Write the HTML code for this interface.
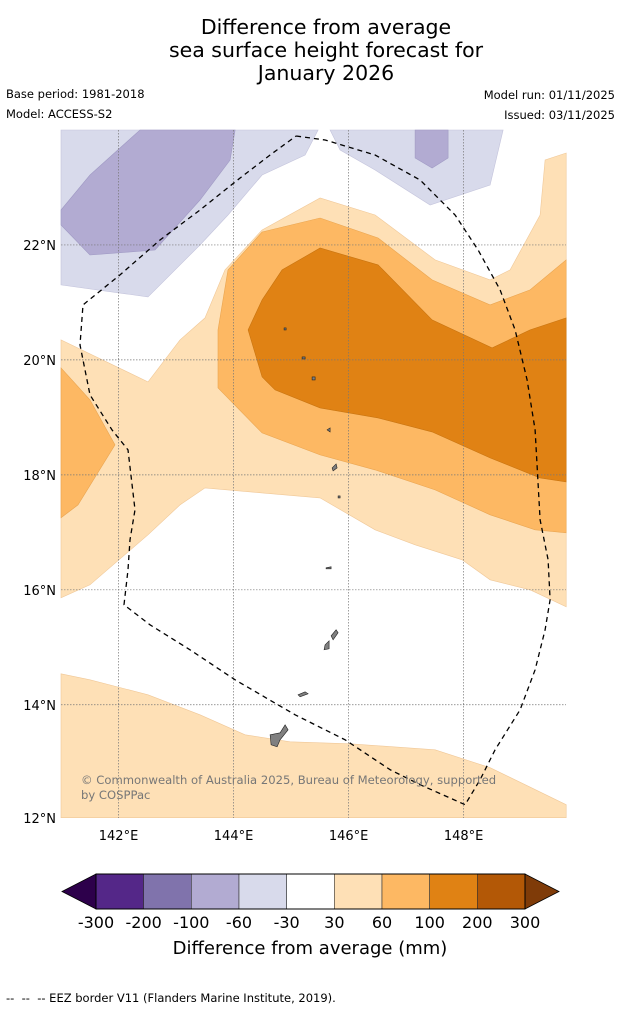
<!DOCTYPE html>
<html><head><meta charset="utf-8"><style>
body{margin:0;background:#fff;font-family:"Liberation Sans","DejaVu Sans",sans-serif;}
#wrap{position:relative;width:621px;height:1011px;overflow:hidden;}
.t{position:absolute;white-space:nowrap;color:#000;}
</style></head><body>
<div id="wrap">
<div class="t" style="left:0;width:652px;top:16px;text-align:center;font-size:20.5px;line-height:23px;font-family:'DejaVu Sans',sans-serif;">Difference from average<br>sea surface height forecast for<br>January 2026</div>
<div class="t" style="left:6px;top:87px;font-size:11.5px;font-family:'DejaVu Sans',sans-serif;">Base period: 1981-2018</div>
<div class="t" style="left:6px;top:107px;font-size:11.5px;font-family:'DejaVu Sans',sans-serif;">Model: ACCESS-S2</div>
<div class="t" style="right:6px;top:88px;font-size:11.5px;font-family:'DejaVu Sans',sans-serif;">Model run: 01/11/2025</div>
<div class="t" style="right:6px;top:108px;font-size:11.5px;font-family:'DejaVu Sans',sans-serif;">Issued: 03/11/2025</div>
<svg id="map" width="621" height="1011" style="position:absolute;left:0;top:0"></svg>
<div class="t" style="left:6px;top:991px;font-size:11.5px;font-family:'DejaVu Sans',sans-serif;">-- &nbsp;-- &nbsp;-- EEZ border V11 (Flanders Marine Institute, 2019).</div>
</div>
<script>
// map extents
const lonMin=141.0, lonMax=149.78, latMin=12.03, latMax=24.0;
const xTicks=[142,144,146,148];
const yTicks=[14,16,18,20,22];
const levels=["-300","-200","-100","-60","-30","30","60","100","200","300"];
const levelColors=["#542788","#8073ac","#b2abd2","#d8daeb","#ffffff","#fee0b6","#fdb863","#e08214","#b35806"];
function toLL(px){return px.map(p=>[141+(p[0]-61)/57.5,24-(p[1]-130)/57.5]);}
const lightPurple=toLL([[61,130],[318,130],[305,155],[262,175],[228,215],[200,245],[148,297],[61,285]]);
const lightPurple2=toLL([[330,130],[503,130],[490,185],[430,205],[375,170],[340,150]]);
const medPurple=toLL([[61,210],[90,175],[140,130],[235,130],[230,160],[200,200],[155,250],[90,255],[61,225]]);
const medPurple2=toLL([[415,130],[448,130],[448,158],[432,168],[415,158]]);
const lightOrange=toLL([[61,340],[148,382],[180,340],[205,318],[225,270],[262,230],[320,198],[375,215],[435,260],[490,280],[510,270],[540,215],[545,160],[566,153],[566,607],[530,590],[490,580],[462,560],[415,545],[375,530],[320,498],[262,493],[205,488],[180,505],[148,535],[90,585],[61,598]]);
const lightOrange2=toLL([[61,674],[90,680],[148,695],[200,715],[245,735],[290,742],[350,744],[435,750],[490,768],[525,785],[566,805],[566,818],[61,818]]);
const medOrange=toLL([[218,330],[228,270],[262,232],[320,218],[378,238],[432,280],[490,305],[530,290],[566,260],[566,533],[535,530],[490,515],[435,490],[375,470],[320,455],[262,433],[218,388]]);
const medOrange2=toLL([[61,368],[90,400],[115,445],[78,505],[61,518]]);
const darkOrange=toLL([[248,330],[262,300],[282,270],[320,248],[378,265],[432,320],[492,348],[530,330],[566,318],[566,482],[540,478],[490,458],[432,432],[378,418],[320,408],[275,390],[262,377]]);
const eez=toLL([[296,136],[325,140],[375,155],[420,180],[455,215],[478,250],[500,290],[515,330],[527,380],[535,430],[540,520],[548,560],[550,600],[545,630],[535,670],[520,710],[495,750],[480,780],[465,805],[420,785],[390,770],[345,740],[295,715],[235,680],[190,650],[150,625],[124,605],[128,570],[130,540],[135,510],[128,450],[112,430],[90,395],[80,345],[83,305],[120,275],[160,240],[200,210],[240,178],[270,155],[296,136]]);
const islands=[toLL([[270,735],[280,733],[285,725],[288,730],[280,740],[277,747],[271,745]]),toLL([[298,695],[305,692],[308,694],[300,697]]),toLL([[325,645],[329,641],[329,649],[324,650]]),toLL([[331,636],[336,630],[338,633],[333,640]]),toLL([[326,568],[331,567],[331,569],[326,569]]),toLL([[332,468],[336,464],[337,468],[333,471]]),toLL([[327,430],[330,428],[330,432]]),toLL([[338,496],[340,496],[340,498],[338,498]]),toLL([[284,328],[286,328],[286,330],[284,330]]),toLL([[302,357],[305,357],[305,359],[302,359]]),toLL([[312,377],[315,377],[315,380],[312,380]])];
const X=lon=>61+(lon-lonMin)/(lonMax-lonMin)*505;
const Y=lat=>130+(latMax-lat)/(latMax-latMin)*688;
const svg=document.getElementById('map');
const NS="http://www.w3.org/2000/svg";
function mk(t,a){const e=document.createElementNS(NS,t);for(const k in a)e.setAttribute(k,a[k]);svg.appendChild(e);return e;}
function poly(pts,fill,name,stroke){const e=mk('polygon',{points:pts.map(p=>X(p[0]).toFixed(1)+','+Y(p[1]).toFixed(1)).join(' '),fill:fill,stroke:stroke||'none','stroke-width':0.6});

return e;}
poly(lightPurple,'#d8daeb','contour-light-purple','#c4c4dc');
poly(lightPurple2,'#d8daeb','contour-light-purple-2','#c4c4dc');
poly(medPurple,'#b2abd2','contour-medium-purple','#a09ac4');
poly(medPurple2,'#b2abd2','contour-medium-purple-2','#a09ac4');
poly(lightOrange,'#fee0b6','contour-light-orange','#f0c898');
poly(lightOrange2,'#fee0b6','contour-light-orange-2','#f0c898');
poly(medOrange,'#fdb863','contour-medium-orange','#eaa550');
poly(medOrange2,'#fdb863','contour-medium-orange-2','#eaa550');
poly(darkOrange,'#e08214','contour-dark-orange','#c87410');
xTicks.forEach(v=>{const l=mk('line',{x1:X(v),x2:X(v),y1:130,y2:818,stroke:'#777','stroke-width':0.7,'stroke-dasharray':'1.5,1.5'});


const t=mk('text',{x:X(v),y:840,'text-anchor':'middle','font-size':13,'font-family':'DejaVu Sans, sans-serif'});t.textContent=v+'°E';

});
yTicks.forEach(v=>{const l=mk('line',{x1:61,x2:566,y1:Y(v),y2:Y(v),stroke:'#777','stroke-width':0.7,'stroke-dasharray':'1.5,1.5'});


const t=mk('text',{x:56,y:Y(v)+5,'text-anchor':'end','font-size':13,'font-family':'DejaVu Sans, sans-serif'});t.textContent=v+'°N';

});
const t12=mk('text',{x:56,y:823,'text-anchor':'end','font-size':13,'font-family':'DejaVu Sans, sans-serif'});t12.textContent='12°N';


islands.forEach(p=>poly(p,'#808080','island','#222'));
const e=mk('polyline',{points:eez.map(p=>X(p[0]).toFixed(1)+','+Y(p[1]).toFixed(1)).join(' '),fill:'none',stroke:'#000','stroke-width':1.3,'stroke-dasharray':'5,4'});


const cp=mk('text',{x:81,y:784,'font-size':11.6,fill:'#777','font-family':'DejaVu Sans, sans-serif'});cp.textContent='© Commonwealth of Australia 2025, Bureau of Meteorology, supported';


const cp2=mk('text',{x:81,y:799,'font-size':11.6,fill:'#777','font-family':'DejaVu Sans, sans-serif'});cp2.textContent='by COSPPac';


// colorbar
const cbL=96,cbR=525,cbT=874,cbB=909,w=(cbR-cbL)/levelColors.length;
const lt=mk('polygon',{points:`${cbL},${cbT} ${cbL},${cbB} 62,${(cbT+cbB)/2}`,fill:'#2d004b',stroke:'#000','stroke-width':0.8});


const rt=mk('polygon',{points:`${cbR},${cbT} ${cbR},${cbB} 559,${(cbT+cbB)/2}`,fill:'#7f3b08',stroke:'#000','stroke-width':0.8});


levelColors.forEach((c,i)=>{const r=mk('rect',{x:cbL+i*w,y:cbT,width:w,height:cbB-cbT,fill:c,stroke:'#333','stroke-width':0.6});

});
mk('rect',{x:cbL,y:cbT,width:cbR-cbL,height:cbB-cbT,fill:'none',stroke:'#000','stroke-width':1});
levels.forEach((s,i)=>{const t=mk('text',{x:cbL+i*w,y:928,'text-anchor':'middle','font-size':16,'font-family':'DejaVu Sans, sans-serif'});t.textContent=s;

});
const ct=mk('text',{x:310,y:954,'text-anchor':'middle','font-size':18,'font-family':'DejaVu Sans, sans-serif'});ct.textContent='Difference from average (mm)';


</script>
</body></html>
